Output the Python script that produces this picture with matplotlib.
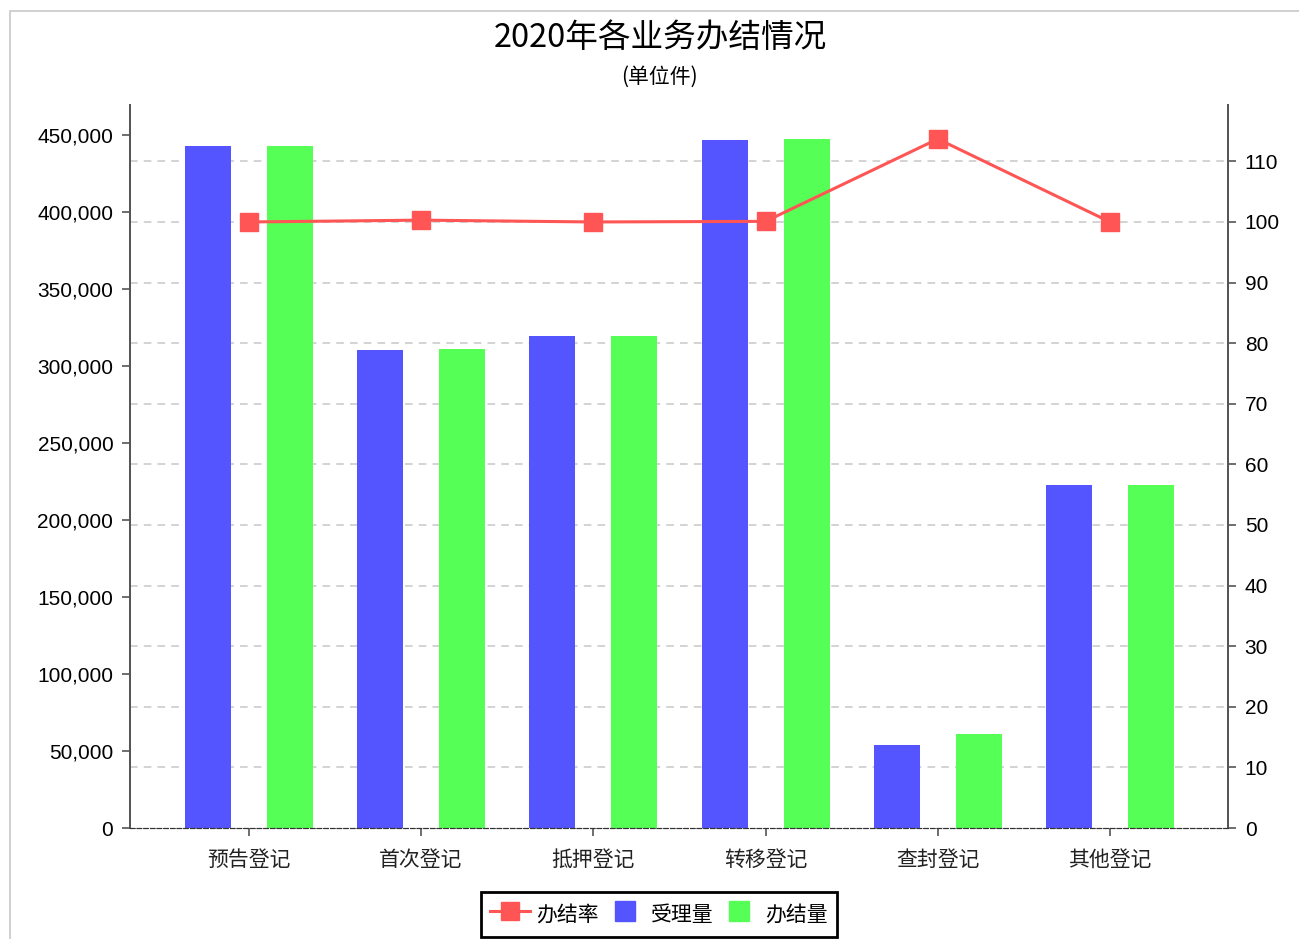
import numpy as np
import matplotlib.pyplot as plt
from matplotlib.patches import Rectangle
from matplotlib.lines import Line2D
from matplotlib.ticker import FuncFormatter
import matplotlib.transforms as mtransforms

plt.rcParams['font.family'] = ['Liberation Sans', 'Noto Sans CJK SC', 'DejaVu Sans']

# data
cats = ['预告登记', '首次登记', '抵押登记', '转移登记', '查封登记', '其他登记']
accepted = [443000, 310400, 319500, 446800, 53900, 222700]    # 受理量
finished = [443000, 311000, 319500, 447400, 61000, 222700]    # 办结量
rate = [100.0, 100.3, 100.0, 100.1, 113.7, 100.0]             # 办结率
left_ticks = [0, 50000, 100000, 150000, 200000, 250000, 300000, 350000, 400000, 450000]
right_ticks = [0, 10, 20, 30, 40, 50, 60, 70, 80, 90, 100, 110]

blue = '#5555ff'; green = '#55ff55'; red = '#ff5555'
cjk = ['Noto Sans CJK SC', 'DejaVu Sans']

fig = plt.figure(figsize=(12.99, 9.39), dpi=100)
# thin gray frame around the chart area
fig.patches.append(Rectangle((10/1299, -0.1), 1.1, 1 - 11/939 + 0.1, transform=fig.transFigure,
                             fill=False, edgecolor='#c8c8c8', linewidth=1.2))

ax1 = fig.add_axes([130/1299, 1 - 828/939, (1228 - 130)/1299, (828 - 105)/939])
ax2 = ax1.twinx()

x = np.arange(len(cats))
w = 0.267
off = 0.238
ax1.bar(x - off, accepted, w, color=blue, zorder=2)
ax1.bar(x + off, finished, w, color=green, zorder=2)
ax1.set_xlim(-0.69, 5.685)
ax1.set_ylim(0, 469500)
ax1.set_yticks(left_ticks)
ax1.yaxis.set_major_formatter(FuncFormatter(lambda v, p: '{:,.0f}'.format(v)))

ax2.plot(x, rate, color=red, linewidth=2.2, marker='s', markersize=13, zorder=3)
ax2.set_ylim(0, 119.3)
ax2.set_yticks(right_ticks)

# grid lines follow the right axis but sit behind the bars
trans = mtransforms.blended_transform_factory(ax1.transAxes, ax2.transData)
ax1.hlines(right_ticks[1:], 0, 1, transform=trans, colors='#c8c8c8',
           linestyles=(0, (5, 4)), linewidth=1.1, zorder=1)

ax1.set_xticks(x)
ax1.set_xticklabels(cats, fontsize=15, family=cjk, color='#222222')
for a in (ax1, ax2):
    a.tick_params(axis='y', labelsize=15, length=6, width=1.2, color='#555555', pad=6)
    a.spines['top'].set_visible(False)
    a.spines['left'].set_color('#555555')
    a.spines['right'].set_color('#555555')
    a.spines['left'].set_linewidth(1.3)
    a.spines['right'].set_linewidth(1.3)
    a.spines['bottom'].set_linestyle((0, (4, 2)))
    a.spines['bottom'].set_color('#333333')
ax1.tick_params(axis='x', length=6, width=1.2, color='#555555', pad=9)

fig.text(0.508, 1 - 38/939, '2020年各业务办结情况', ha='center', va='center',
         fontsize=23.5, family=cjk)
fig.text(0.508, 1 - 77/939, '(单位件)', ha='center', va='center', fontsize=15, family=cjk)

handles = [Line2D([0], [0], color=red, linewidth=2.2, marker='s', markersize=13),
           Line2D([0], [0], color=blue, linestyle='none', marker='s', markersize=15),
           Line2D([0], [0], color=green, linestyle='none', marker='s', markersize=15)]
leg = fig.legend(handles, ['办结率', '受理量', '办结量'], loc='upper center',
                 bbox_to_anchor=(659/1299, 1 - 892/939), ncol=3, frameon=True,
                 fancybox=False, edgecolor='black', framealpha=1,
                 prop={'family': cjk, 'size': 15},
                 handlelength=1.9, handleheight=1.55, handletextpad=0.3, columnspacing=0.3,
                 borderpad=0.45, borderaxespad=0)
leg.get_frame().set_linewidth(2)

fig.savefig('out.png', dpi=100)
